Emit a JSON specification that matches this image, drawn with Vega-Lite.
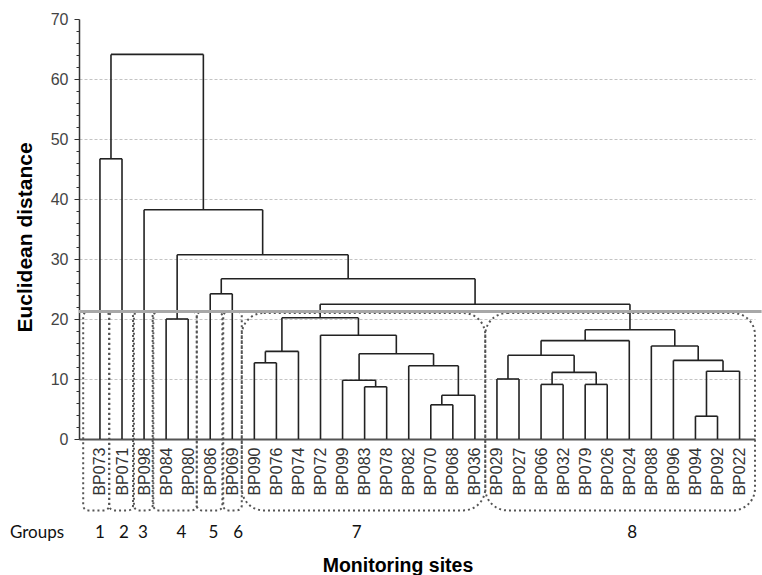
{
  "$schema": "https://vega.github.io/schema/vega-lite/v6.json",
  "width": 676,
  "height": 420,
  "autosize": "none",
  "padding": {"left": 79, "top": 19, "right": 7, "bottom": 136},
  "background": "white",
  "config": {
    "view": {"stroke": null},
    "font": "Liberation Sans",
    "axis": {"labelFont": "Liberation Sans", "titleFont": "Liberation Sans", "labelFlush": false},
    "axisX": {
      "labelAngle": -90, "labelAlign": "right", "labelBaseline": "middle",
      "labelPadding": 8, "labelOverlap": false, "labelFontSize": 16, "labelColor": "#333",
      "ticks": false, "grid": false, "domainColor": "#555", "domainWidth": 2,
      "titleFontSize": 19.5, "titleFontWeight": "bold", "titleColor": "#000",
      "titleX": 318.5, "titleY": 132, "titleAlign": "center", "titleBaseline": "alphabetic"
    },
    "axisY": {
      "labelOverlap": false, "tickColor": "#333", "domainColor": "#333", "domainWidth": 1.5,
      "grid": true, "gridDash": [3, 2], "gridColor": "#c4c4c4", "gridWidth": 1,
      "labelFontSize": 16, "labelColor": "#444", "labelPadding": 6,
      "titleFontSize": 21, "titleFontWeight": "bold", "titleColor": "#000",
      "titleX": -47.5, "titleY": 218, "titleAngle": -90, "titleAlign": "center", "titleBaseline": "alphabetic"
    }
  },
  "datasets": {
    "nodes": [
      {"node": "A", "xl": 1, "xr": 2, "h": 46.7, "hl": 0, "hr": 0},
      {"node": "B", "xl": 4, "xr": 5, "h": 20.0, "hl": 0, "hr": 0},
      {"node": "C", "xl": 6, "xr": 7, "h": 24.2, "hl": 0, "hr": 0},
      {"node": "D", "xl": 8, "xr": 9, "h": 12.7, "hl": 0, "hr": 0},
      {"node": "E", "xl": 8.5, "xr": 10, "h": 14.6, "hl": 12.7, "hr": 0},
      {"node": "F", "xl": 13, "xr": 14, "h": 8.7, "hl": 0, "hr": 0},
      {"node": "G", "xl": 12, "xr": 13.5, "h": 9.8, "hl": 0, "hr": 8.7},
      {"node": "H", "xl": 16, "xr": 17, "h": 5.7, "hl": 0, "hr": 0},
      {"node": "I", "xl": 16.5, "xr": 18, "h": 7.3, "hl": 5.7, "hr": 0},
      {"node": "J", "xl": 15, "xr": 17.25, "h": 12.2, "hl": 0, "hr": 7.3},
      {"node": "K", "xl": 12.75, "xr": 16.125, "h": 14.2, "hl": 9.8, "hr": 12.2},
      {"node": "L", "xl": 11, "xr": 14.4375, "h": 17.3, "hl": 0, "hr": 14.2},
      {"node": "M", "xl": 9.25, "xr": 12.71875, "h": 20.2, "hl": 14.6, "hr": 17.3},
      {"node": "N", "xl": 19, "xr": 20, "h": 10.0, "hl": 0, "hr": 0},
      {"node": "O", "xl": 21, "xr": 22, "h": 9.1, "hl": 0, "hr": 0},
      {"node": "P", "xl": 23, "xr": 24, "h": 9.1, "hl": 0, "hr": 0},
      {"node": "Q", "xl": 21.5, "xr": 23.5, "h": 11.1, "hl": 9.1, "hr": 9.1},
      {"node": "R", "xl": 19.5, "xr": 22.5, "h": 13.95, "hl": 10.0, "hr": 11.1},
      {"node": "S", "xl": 21, "xr": 25, "h": 16.4, "hl": 13.95, "hr": 0},
      {"node": "T", "xl": 28, "xr": 29, "h": 3.8, "hl": 0, "hr": 0},
      {"node": "U", "xl": 28.5, "xr": 30, "h": 11.3, "hl": 3.8, "hr": 0},
      {"node": "V", "xl": 27, "xr": 29.25, "h": 13.1, "hl": 0, "hr": 11.3},
      {"node": "W", "xl": 26, "xr": 28.125, "h": 15.5, "hl": 0, "hr": 13.1},
      {"node": "X", "xl": 23, "xr": 27.0625, "h": 18.2, "hl": 16.4, "hr": 15.5},
      {"node": "Y", "xl": 10.984375, "xr": 25.03125, "h": 22.45, "hl": 20.2, "hr": 18.2},
      {"node": "Z", "xl": 6.5, "xr": 18.0078, "h": 26.7, "hl": 24.2, "hr": 22.45},
      {"node": "AA", "xl": 4.5, "xr": 12.2539, "h": 30.7, "hl": 20.0, "hr": 26.7},
      {"node": "AB", "xl": 3, "xr": 8.377, "h": 38.2, "hl": 0, "hr": 30.7},
      {"node": "AC", "xl": 1.5, "xr": 5.6885, "h": 64.1, "hl": 46.7, "hr": 38.2}
    ],
    "groups": [
      {"group": "1", "left": 0.24, "right": 1.42, "lx": 1.0, "big": false},
      {"group": "2", "left": 1.42, "right": 2.5, "lx": 2.09, "big": false},
      {"group": "3", "left": 2.54, "right": 3.39, "lx": 2.95, "big": false},
      {"group": "4", "left": 3.42, "right": 5.39, "lx": 4.7, "big": false},
      {"group": "5", "left": 5.39, "right": 6.55, "lx": 6.14, "big": false},
      {"group": "6", "left": 6.59, "right": 7.43, "lx": 7.27, "big": false},
      {"group": "7", "left": 7.43, "right": 18.47, "lx": 12.64, "big": true},
      {"group": "8", "left": 18.47, "right": 30.7, "lx": 25.13, "big": true}
    ]
  },
  "layer": [
    {
      "data": {"name": "nodes"},
      "mark": {"type": "rule", "color": "#222", "strokeWidth": 1.6},
      "encoding": {
        "x": {"field": "xl", "type": "quantitative", "scale": {"domain": [0.05, 30.7], "nice": false, "zero": false},
          "axis": {"title": "Monitoring sites", "values": [1,2,3,4,5,6,7,8,9,10,11,12,13,14,15,16,17,18,19,20,21,22,23,24,25,26,27,28,29,30],
            "labelExpr": "['BP073','BP071','BP098','BP084','BP080','BP086','BP069','BP090','BP076','BP074','BP072','BP099','BP083','BP078','BP082','BP070','BP068','BP036','BP029','BP027','BP066','BP032','BP079','BP026','BP024','BP088','BP096','BP094','BP092','BP022'][datum.value - 1]"}},
        "x2": {"field": "xr"},
        "y": {"field": "h", "type": "quantitative", "scale": {"domain": [0, 70], "nice": false, "zero": false},
          "axis": {"title": "Euclidean distance", "values": [0,2,4,6,8,10,12,14,16,18,20,22,24,26,28,30,32,34,36,38,40,42,44,46,48,50,52,54,56,58,60,62,64,66,68,70],
            "labelExpr": "datum.value % 10 === 0 ? datum.label : ''",
            "tickSize": {"condition": {"test": "datum.value % 10 === 0", "value": 5}, "value": 3},
            "gridOpacity": {"condition": {"test": "datum.value % 10 === 0 && datum.value > 0 && datum.value < 70", "value": 1}, "value": 0}}}
      }
    },
    {
      "data": {"name": "groups"},
      "transform": [{"filter": "!datum.big"}],
      "mark": {"type": "rect", "filled": false, "stroke": "#555", "strokeWidth": 2, "strokeDash": [2, 3], "cornerRadius": 5, "clip": false},
      "encoding": {
        "x": {"field": "left", "type": "quantitative", "scale": {"domain": [0.05, 30.7], "nice": false, "zero": false},
          "axis": {"title": "Monitoring sites", "values": [1,2,3,4,5,6,7,8,9,10,11,12,13,14,15,16,17,18,19,20,21,22,23,24,25,26,27,28,29,30],
            "labelExpr": "['BP073','BP071','BP098','BP084','BP080','BP086','BP069','BP090','BP076','BP074','BP072','BP099','BP083','BP078','BP082','BP070','BP068','BP036','BP029','BP027','BP066','BP032','BP079','BP026','BP024','BP088','BP096','BP094','BP092','BP022'][datum.value - 1]"}},
        "x2": {"field": "right"},
        "y": {"datum": -11.9, "type": "quantitative", "scale": {"domain": [0, 70], "nice": false, "zero": false},
          "axis": {"title": "Euclidean distance", "values": [0,2,4,6,8,10,12,14,16,18,20,22,24,26,28,30,32,34,36,38,40,42,44,46,48,50,52,54,56,58,60,62,64,66,68,70],
            "labelExpr": "datum.value % 10 === 0 ? datum.label : ''",
            "tickSize": {"condition": {"test": "datum.value % 10 === 0", "value": 5}, "value": 3},
            "gridOpacity": {"condition": {"test": "datum.value % 10 === 0 && datum.value > 0 && datum.value < 70", "value": 1}, "value": 0}}},
        "y2": {"datum": 21.25}
      }
    },
    {
      "data": {"name": "groups"},
      "transform": [{"filter": "datum.big"}],
      "mark": {"type": "rect", "filled": false, "stroke": "#555", "strokeWidth": 2, "strokeDash": [2, 3], "cornerRadius": 22, "clip": false},
      "encoding": {
        "x": {"field": "left", "type": "quantitative", "scale": {"domain": [0.05, 30.7], "nice": false, "zero": false},
          "axis": {"title": "Monitoring sites", "values": [1,2,3,4,5,6,7,8,9,10,11,12,13,14,15,16,17,18,19,20,21,22,23,24,25,26,27,28,29,30],
            "labelExpr": "['BP073','BP071','BP098','BP084','BP080','BP086','BP069','BP090','BP076','BP074','BP072','BP099','BP083','BP078','BP082','BP070','BP068','BP036','BP029','BP027','BP066','BP032','BP079','BP026','BP024','BP088','BP096','BP094','BP092','BP022'][datum.value - 1]"}},
        "x2": {"field": "right"},
        "y": {"datum": -11.9, "type": "quantitative", "scale": {"domain": [0, 70], "nice": false, "zero": false},
          "axis": {"title": "Euclidean distance", "values": [0,2,4,6,8,10,12,14,16,18,20,22,24,26,28,30,32,34,36,38,40,42,44,46,48,50,52,54,56,58,60,62,64,66,68,70],
            "labelExpr": "datum.value % 10 === 0 ? datum.label : ''",
            "tickSize": {"condition": {"test": "datum.value % 10 === 0", "value": 5}, "value": 3},
            "gridOpacity": {"condition": {"test": "datum.value % 10 === 0 && datum.value > 0 && datum.value < 70", "value": 1}, "value": 0}}},
        "y2": {"datum": 21.0}
      }
    },
    {
      "data": {"name": "nodes"},
      "mark": {"type": "rule", "color": "#222", "strokeWidth": 1.6},
      "encoding": {
        "x": {"field": "xl", "type": "quantitative", "scale": {"domain": [0.05, 30.7], "nice": false, "zero": false},
          "axis": {"title": "Monitoring sites", "values": [1,2,3,4,5,6,7,8,9,10,11,12,13,14,15,16,17,18,19,20,21,22,23,24,25,26,27,28,29,30],
            "labelExpr": "['BP073','BP071','BP098','BP084','BP080','BP086','BP069','BP090','BP076','BP074','BP072','BP099','BP083','BP078','BP082','BP070','BP068','BP036','BP029','BP027','BP066','BP032','BP079','BP026','BP024','BP088','BP096','BP094','BP092','BP022'][datum.value - 1]"}},
        "y": {"field": "hl", "type": "quantitative", "scale": {"domain": [0, 70], "nice": false, "zero": false},
          "axis": {"title": "Euclidean distance", "values": [0,2,4,6,8,10,12,14,16,18,20,22,24,26,28,30,32,34,36,38,40,42,44,46,48,50,52,54,56,58,60,62,64,66,68,70],
            "labelExpr": "datum.value % 10 === 0 ? datum.label : ''",
            "tickSize": {"condition": {"test": "datum.value % 10 === 0", "value": 5}, "value": 3},
            "gridOpacity": {"condition": {"test": "datum.value % 10 === 0 && datum.value > 0 && datum.value < 70", "value": 1}, "value": 0}}},
        "y2": {"field": "h"}
      }
    },
    {
      "data": {"name": "nodes"},
      "mark": {"type": "rule", "color": "#222", "strokeWidth": 1.6},
      "encoding": {
        "x": {"field": "xr", "type": "quantitative", "scale": {"domain": [0.05, 30.7], "nice": false, "zero": false},
          "axis": {"title": "Monitoring sites", "values": [1,2,3,4,5,6,7,8,9,10,11,12,13,14,15,16,17,18,19,20,21,22,23,24,25,26,27,28,29,30],
            "labelExpr": "['BP073','BP071','BP098','BP084','BP080','BP086','BP069','BP090','BP076','BP074','BP072','BP099','BP083','BP078','BP082','BP070','BP068','BP036','BP029','BP027','BP066','BP032','BP079','BP026','BP024','BP088','BP096','BP094','BP092','BP022'][datum.value - 1]"}},
        "y": {"field": "hr", "type": "quantitative", "scale": {"domain": [0, 70], "nice": false, "zero": false},
          "axis": {"title": "Euclidean distance", "values": [0,2,4,6,8,10,12,14,16,18,20,22,24,26,28,30,32,34,36,38,40,42,44,46,48,50,52,54,56,58,60,62,64,66,68,70],
            "labelExpr": "datum.value % 10 === 0 ? datum.label : ''",
            "tickSize": {"condition": {"test": "datum.value % 10 === 0", "value": 5}, "value": 3},
            "gridOpacity": {"condition": {"test": "datum.value % 10 === 0 && datum.value > 0 && datum.value < 70", "value": 1}, "value": 0}}},
        "y2": {"field": "h"}
      }
    },
    {
      "data": {"values": [{"cut": 21.25}]},
      "mark": {"type": "rule", "color": "#a8a8a8", "strokeWidth": 3, "clip": false},
      "encoding": {
        "x": {"datum": 0.05, "type": "quantitative", "scale": {"domain": [0.05, 30.7], "nice": false, "zero": false},
          "axis": {"title": "Monitoring sites", "values": [1,2,3,4,5,6,7,8,9,10,11,12,13,14,15,16,17,18,19,20,21,22,23,24,25,26,27,28,29,30],
            "labelExpr": "['BP073','BP071','BP098','BP084','BP080','BP086','BP069','BP090','BP076','BP074','BP072','BP099','BP083','BP078','BP082','BP070','BP068','BP036','BP029','BP027','BP066','BP032','BP079','BP026','BP024','BP088','BP096','BP094','BP092','BP022'][datum.value - 1]"}},
        "x2": {"datum": 31},
        "y": {"field": "cut", "type": "quantitative", "scale": {"domain": [0, 70], "nice": false, "zero": false},
          "axis": {"title": "Euclidean distance", "values": [0,2,4,6,8,10,12,14,16,18,20,22,24,26,28,30,32,34,36,38,40,42,44,46,48,50,52,54,56,58,60,62,64,66,68,70],
            "labelExpr": "datum.value % 10 === 0 ? datum.label : ''",
            "tickSize": {"condition": {"test": "datum.value % 10 === 0", "value": 5}, "value": 3},
            "gridOpacity": {"condition": {"test": "datum.value % 10 === 0 && datum.value > 0 && datum.value < 70", "value": 1}, "value": 0}}}
      }
    },
    {
      "data": {"name": "groups"},
      "mark": {"type": "text", "font": "Lato", "fontSize": 17, "color": "#111", "align": "center", "baseline": "middle", "clip": false},
      "encoding": {
        "x": {"field": "lx", "type": "quantitative", "scale": {"domain": [0.05, 30.7], "nice": false, "zero": false},
          "axis": {"title": "Monitoring sites", "values": [1,2,3,4,5,6,7,8,9,10,11,12,13,14,15,16,17,18,19,20,21,22,23,24,25,26,27,28,29,30],
            "labelExpr": "['BP073','BP071','BP098','BP084','BP080','BP086','BP069','BP090','BP076','BP074','BP072','BP099','BP083','BP078','BP082','BP070','BP068','BP036','BP029','BP027','BP066','BP032','BP079','BP026','BP024','BP088','BP096','BP094','BP092','BP022'][datum.value - 1]"}},
        "y": {"datum": -15.7, "type": "quantitative", "scale": {"domain": [0, 70], "nice": false, "zero": false},
          "axis": {"title": "Euclidean distance", "values": [0,2,4,6,8,10,12,14,16,18,20,22,24,26,28,30,32,34,36,38,40,42,44,46,48,50,52,54,56,58,60,62,64,66,68,70],
            "labelExpr": "datum.value % 10 === 0 ? datum.label : ''",
            "tickSize": {"condition": {"test": "datum.value % 10 === 0", "value": 5}, "value": 3},
            "gridOpacity": {"condition": {"test": "datum.value % 10 === 0 && datum.value > 0 && datum.value < 70", "value": 1}, "value": 0}}},
        "text": {"field": "group"}
      }
    },
    {
      "data": {"values": [{"label": "Groups"}]},
      "mark": {"type": "text", "font": "Lato", "fontSize": 17, "color": "#111", "align": "left", "baseline": "middle", "clip": false},
      "encoding": {
        "x": {"datum": -3.08, "type": "quantitative", "scale": {"domain": [0.05, 30.7], "nice": false, "zero": false},
          "axis": {"title": "Monitoring sites", "values": [1,2,3,4,5,6,7,8,9,10,11,12,13,14,15,16,17,18,19,20,21,22,23,24,25,26,27,28,29,30],
            "labelExpr": "['BP073','BP071','BP098','BP084','BP080','BP086','BP069','BP090','BP076','BP074','BP072','BP099','BP083','BP078','BP082','BP070','BP068','BP036','BP029','BP027','BP066','BP032','BP079','BP026','BP024','BP088','BP096','BP094','BP092','BP022'][datum.value - 1]"}},
        "y": {"datum": -15.7, "type": "quantitative", "scale": {"domain": [0, 70], "nice": false, "zero": false},
          "axis": {"title": "Euclidean distance", "values": [0,2,4,6,8,10,12,14,16,18,20,22,24,26,28,30,32,34,36,38,40,42,44,46,48,50,52,54,56,58,60,62,64,66,68,70],
            "labelExpr": "datum.value % 10 === 0 ? datum.label : ''",
            "tickSize": {"condition": {"test": "datum.value % 10 === 0", "value": 5}, "value": 3},
            "gridOpacity": {"condition": {"test": "datum.value % 10 === 0 && datum.value > 0 && datum.value < 70", "value": 1}, "value": 0}}},
        "text": {"field": "label"}
      }
    }
  ]
}
